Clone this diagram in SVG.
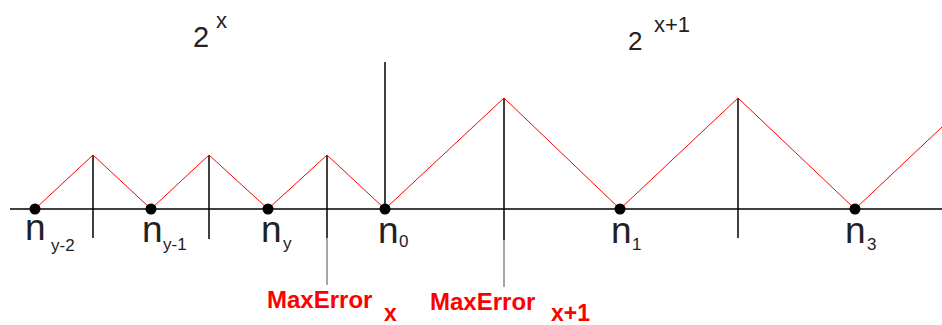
<svg xmlns="http://www.w3.org/2000/svg" width="942" height="325" viewBox="0 0 942 325">
<style>
.ax{stroke:#000;stroke-width:1.5;fill:none}
.gr{stroke:#888;stroke-width:1.5;fill:none}
.rd{stroke:#ff0000;stroke-width:1;fill:none}
.dot{fill:#000}
.n{font-family:"Liberation Sans",Arial,sans-serif;font-size:37px;fill:#222}
.s{font-family:"Liberation Sans",Arial,sans-serif;font-size:17px;fill:#222}
.t{font-family:"Liberation Sans",Arial,sans-serif;fill:#222}
.me{font-family:"Liberation Sans",Arial,sans-serif;font-weight:bold;fill:#ff0000}
</style>
<rect width="942" height="325" fill="#fff"/>
<g id="axes">
<line class="ax" x1="10" y1="209" x2="942" y2="209"/>
<line class="ax" x1="385" y1="62" x2="385" y2="209"/>
<line class="ax" x1="93" y1="155" x2="93" y2="238"/>
<line class="ax" x1="209" y1="155" x2="209" y2="239"/>
<line class="ax" x1="327" y1="155" x2="327" y2="238"/>
<line class="gr" x1="327" y1="238" x2="327" y2="285"/>
<line class="ax" x1="504" y1="98" x2="504" y2="240"/>
<line class="gr" x1="504" y1="240" x2="504" y2="287"/>
<line class="ax" x1="738" y1="98" x2="738" y2="238"/>
</g>
<g id="connectors">
<polyline class="rd" points="35,209 93,155 151,209 209,155 268,209 327,155 385,209 504,98 620,209 738,98 855,209 942,127"/>
</g>
<g id="node-ny-2">
<circle class="dot" cx="35" cy="209" r="5.5"/>
<text class="n" x="25" y="240">n</text><text class="s" x="51" y="251">y-2</text>
</g>
<g id="node-ny-1">
<circle class="dot" cx="151" cy="209" r="5.5"/>
<text class="n" x="142" y="242">n</text><text class="s" x="163" y="250">y-1</text>
</g>
<g id="node-ny">
<circle class="dot" cx="268" cy="209" r="5.5"/>
<text class="n" x="261" y="242">n</text><text class="s" x="283" y="249">y</text>
</g>
<g id="node-n0">
<circle class="dot" cx="385" cy="209" r="5.5"/>
<text class="n" x="378" y="243">n</text><text class="s" x="399" y="247">0</text>
</g>
<g id="node-n1">
<circle class="dot" cx="620" cy="209" r="5.5"/>
<text class="n" x="611" y="243">n</text><text class="s" x="632" y="250">1</text>
</g>
<g id="node-n3">
<circle class="dot" cx="855" cy="209" r="5.5"/>
<text class="n" x="845" y="243">n</text><text class="s" x="867" y="250">3</text>
</g>
<g id="labels">
<text class="t" x="193" y="47" font-size="29">2</text>
<text class="t" x="216" y="28" font-size="22">x</text>
<text class="t" x="628" y="50" font-size="26">2</text>
<text class="t" x="654" y="32" font-size="22">x+1</text>
<text class="me" x="267" y="308" font-size="24">MaxError</text>
<text class="me" x="384" y="321" font-size="23">x</text>
<text class="me" x="430" y="310" font-size="24">MaxError</text>
<text class="me" x="551" y="321" font-size="23">x+1</text>
</g>
</svg>
